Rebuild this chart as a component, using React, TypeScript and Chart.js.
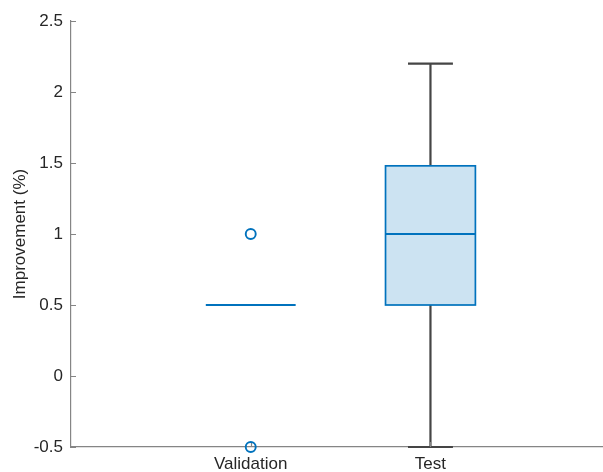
import React, { useEffect, useRef } from "react";
import { Chart, registerables } from "chart.js";

Chart.register(...registerables);

// ---- data ----
const categories = ["Validation", "Test"];
const positions = [1, 2];
const q1 = [0.5, 0.5];
const medians = [0.5, 1.0];
const q3 = [0.5, 1.48];
const whiskerLow = [0.5, -0.5];
const whiskerHigh = [0.5, 2.2];
const outlierX = [1, 1];
const outlierY = [1.0, -0.5];
const yTicks = [-0.5, 0, 0.5, 1, 1.5, 2, 2.5];

// ---- styles ----
const BLUE = "#0072BD";
const FACE = "rgba(0,114,189,0.2)";
const WHISKER = "#454545";
const AXIS = "#858585";
const TEXT = "#262626";
const FONT = "'Liberation Sans', Arial, Helvetica, sans-serif";
const BOX_W = 0.5;
const CAP_W = 0.25;

const boxPlugin = {
  id: "boxes",
  beforeDatasetsDraw(chart: any) {
    const ctx = chart.ctx;
    const xs = chart.scales.x;
    const ys = chart.scales.y;
    ctx.save();
    positions.forEach((p, i) => {
      const xc = xs.getPixelForValue(p);
      const xl = xs.getPixelForValue(p - BOX_W / 2);
      const xr = xs.getPixelForValue(p + BOX_W / 2);
      const cl = xs.getPixelForValue(p - CAP_W / 2);
      const cr = xs.getPixelForValue(p + CAP_W / 2);
      const yq1 = ys.getPixelForValue(q1[i]);
      const yq3 = ys.getPixelForValue(q3[i]);
      const ym = ys.getPixelForValue(medians[i]);
      const ywl = ys.getPixelForValue(whiskerLow[i]);
      const ywh = ys.getPixelForValue(whiskerHigh[i]);
      // whiskers
      ctx.strokeStyle = WHISKER;
      ctx.lineWidth = 2.2;
      if (whiskerHigh[i] > q3[i]) {
        ctx.beginPath();
        ctx.moveTo(xc, yq3);
        ctx.lineTo(xc, ywh);
        ctx.moveTo(cl, ywh);
        ctx.lineTo(cr, ywh);
        ctx.stroke();
      }
      if (whiskerLow[i] < q1[i]) {
        ctx.beginPath();
        ctx.moveTo(xc, yq1);
        ctx.lineTo(xc, ywl);
        ctx.moveTo(cl, ywl);
        ctx.lineTo(cr, ywl);
        ctx.stroke();
      }
      // box
      if (q3[i] > q1[i]) {
        ctx.fillStyle = FACE;
        ctx.fillRect(xl, yq3, xr - xl, yq1 - yq3);
        ctx.strokeStyle = BLUE;
        ctx.lineWidth = 1.7;
        ctx.strokeRect(xl, yq3, xr - xl, yq1 - yq3);
      }
      // median
      ctx.strokeStyle = BLUE;
      ctx.lineWidth = 2;
      ctx.beginPath();
      ctx.moveTo(xl, ym);
      ctx.lineTo(xr, ym);
      ctx.stroke();
    });
    // inward tick marks
    ctx.strokeStyle = AXIS;
    ctx.lineWidth = 1.2;
    const left = chart.chartArea.left;
    const bottom = chart.chartArea.bottom;
    ctx.beginPath();
    yTicks.forEach((t) => {
      const y = Math.round(ys.getPixelForValue(t)) + 0.5;
      ctx.moveTo(left, y);
      ctx.lineTo(left + 5, y);
    });
    positions.forEach((p) => {
      const x = Math.round(xs.getPixelForValue(p)) + 0.5;
      ctx.moveTo(x, bottom);
      ctx.lineTo(x, bottom - 5);
    });
    ctx.stroke();
    ctx.restore();
  },
};

export default function App() {
  const ref = useRef<HTMLCanvasElement | null>(null);
  useEffect(() => {
    if (!ref.current) return;
    const chart = new Chart(ref.current, {
      type: "scatter",
      data: {
        datasets: [
          {
            data: outlierX.map((x, i) => ({ x, y: outlierY[i] })),
            pointStyle: "circle",
            pointRadius: 5,
            pointBorderWidth: 1.9,
            borderColor: BLUE,
            backgroundColor: "rgba(0,0,0,0)",
            pointBackgroundColor: "rgba(0,0,0,0)",
            pointBorderColor: BLUE,
            clip: false as any,
          },
        ],
      },
      options: {
        animation: false,
        responsive: false,
        devicePixelRatio: 1,
        layout: { autoPadding: false, padding: { top: 21, left: 0, right: 0, bottom: 0 } },
        plugins: {
          legend: { display: false },
          tooltip: { enabled: false },
        },
        scales: {
          x: {
            type: "linear",
            min: 0,
            max: 2.96,
            grid: { display: false, drawTicks: false },
            border: { display: true, color: AXIS, width: 1.2 },
            afterBuildTicks: (scale: any) => {
              scale.ticks = positions.map((v) => ({ value: v }));
            },
            afterFit: (scale: any) => {
              scale.height = 25;
              scale.paddingRight = 0;
              scale.paddingLeft = 0;
            },
            ticks: {
              padding: 7,
              color: TEXT,
              font: { family: FONT, size: 17 },
              maxRotation: 0,
              autoSkip: false,
              callback: (v: any) => {
                const idx = positions.indexOf(Number(v));
                return idx >= 0 ? categories[idx] : "";
              },
            },
          },
          y: {
            type: "linear",
            min: -0.5,
            max: 2.5,
            grid: { display: false, drawTicks: false },
            border: { display: true, color: AXIS, width: 1.2 },
            afterBuildTicks: (scale: any) => {
              scale.ticks = yTicks.map((v) => ({ value: v }));
            },
            afterFit: (scale: any) => {
              scale.width = 71;
            },
            ticks: {
              padding: 8,
              color: TEXT,
              font: { family: FONT, size: 17 },
              autoSkip: false,
              callback: (v: any) => String(v),
            },
            title: {
              display: true,
              text: "Improvement (%)",
              color: TEXT,
              font: { family: FONT, size: 17 },
              padding: { top: 10, bottom: 0 },
            },
          },
        },
      },
      plugins: [boxPlugin],
    });
    return () => chart.destroy();
  }, []);
  return (
    <div style={{ position: "absolute", left: 0, top: 0, width: 603, height: 472, background: "#fff" }}>
      <canvas ref={ref} width={603} height={472} style={{ display: "block" }} />
    </div>
  );
}
